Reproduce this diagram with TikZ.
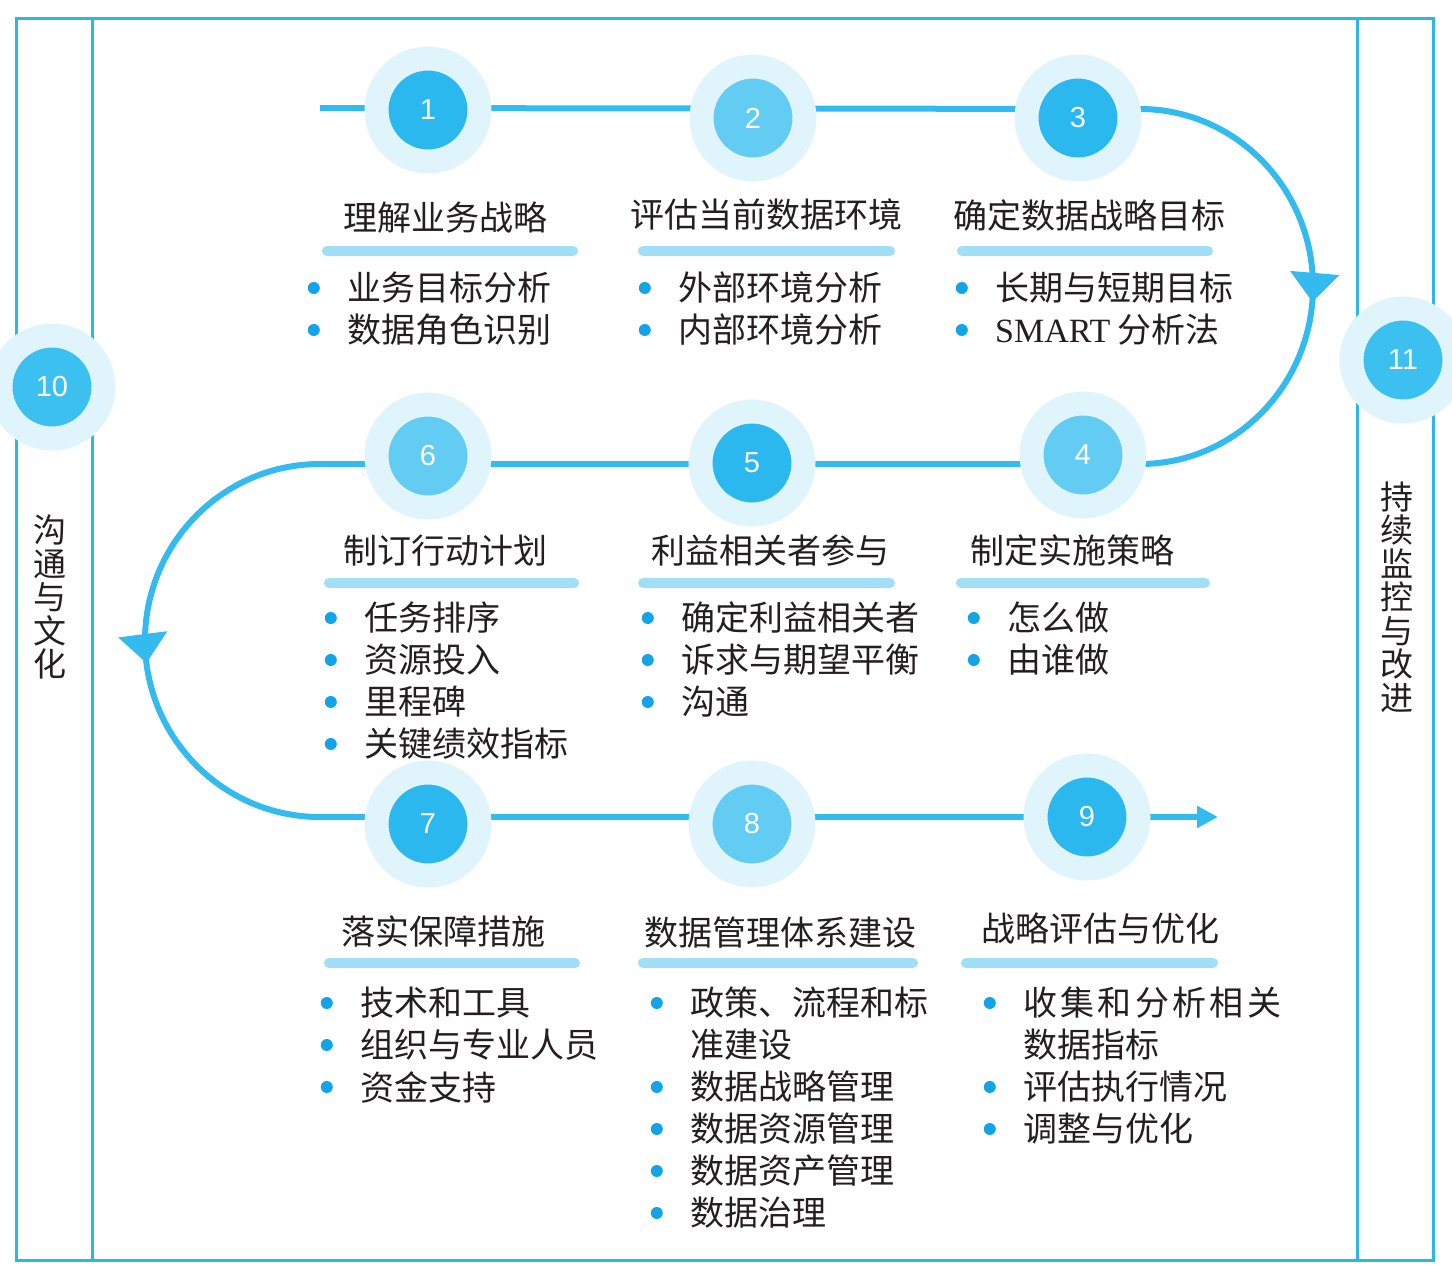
\documentclass[tikz,border=0pt]{standalone}
\usepackage{fontspec}
\setmainfont{Noto Sans CJK SC}
\newfontfamily\numfont{Liberation Sans}
\newfontfamily\latinfont{Liberation Serif}
\usetikzlibrary{arrows.meta,decorations.markings}

\definecolor{flowblue}{HTML}{33BAEE}
\definecolor{halo}{HTML}{E0F4FC}
\definecolor{darkdisc}{HTML}{2AB8EF}
\definecolor{lightdisc}{HTML}{62CCF3}
\definecolor{middisc}{HTML}{3CC0F0}
\definecolor{barblue}{HTML}{A0DFF6}
\definecolor{dotblue}{HTML}{12A4E6}
\definecolor{frameblue}{HTML}{2DB6EC}
\definecolor{ink}{HTML}{231F20}

\tikzset{
  frame/.style={draw=frameblue, line width=3pt},
  flow/.style={draw=flowblue, line width=6pt},
  midarrow/.style={decoration={markings,
      mark=at position #1 with {\arrow{Triangle[width=48pt,length=29pt]}}},
    postaction={decorate}},
  stepdisc/.style={circle, minimum size=103pt, inner sep=0pt, draw=halo,
    line width=24pt, fill=#1, text=white,
    font=\numfont\fontsize{29}{29}\selectfont},
  heading/.style={anchor=west, inner sep=0pt, text=ink,
    font=\fontsize{34}{40}\selectfont},
  bar/.style={draw=barblue, line width=10pt, line cap=round},
  point/.style={heading, label={[circle, fill=dotblue, inner sep=0pt,
      minimum size=12pt, label distance=27pt]left:{}}},
  vtext/.style={align=center, inner sep=0pt, text=ink,
    font=\fontsize{33}{33.5}\selectfont},
}

\begin{document}
\begin{tikzpicture}[x=1pt,y=-1pt]
  \clip (0,0) rectangle (1452,1279);

  \draw[frame] (16,19) rectangle (1433,1260);
  \draw[frame] (92,19) -- (92,1260);
  \draw[frame] (1357,19) -- (1357,1260);

  \coordinate (r1) at (320,108);
  \coordinate (a1) at (1140,109);
  \coordinate (a2) at (1140,464);
  \coordinate (a3) at (320,464);
  \coordinate (a4) at (320,817);
  \coordinate (a5) at (1218,817);

  \draw[flow] (r1) -- (a1);
  \draw[flow, midarrow=0.528] (a1)
    arc[start angle=-90, end angle=90, x radius=173, y radius=177.5];
  \draw[flow] (a2) -- (a3);
  \draw[flow, midarrow=0.541] (a3)
    arc[start angle=-90, end angle=-270, x radius=175, y radius=176.5];
  \draw[flow, -{Triangle[length=21pt,width=21pt]}] (a4) -- (a5);

  \node[stepdisc=darkdisc] (s1) at (428,110) {1};
  \node[stepdisc=lightdisc] (s2) at (753,118) {2};
  \node[stepdisc=darkdisc] (s3) at (1078,118) {3};
  \node[stepdisc=lightdisc] (s4) at (1083,455) {4};
  \node[stepdisc=darkdisc] (s5) at (752,463) {5};
  \node[stepdisc=lightdisc] (s6) at (428,456) {6};
  \node[stepdisc=darkdisc] (s7) at (428,824) {7};
  \node[stepdisc=lightdisc] (s8) at (752,824) {8};
  \node[stepdisc=darkdisc] (s9) at (1087,817) {9};
  \node[stepdisc=middisc] (s10) at (52,387) {10};
  \node[stepdisc=middisc] (s11) at (1403,360) {11};

  \node[vtext] (left) at (50,597) {沟\\通\\与\\文\\化};
  \node[vtext] (right) at (1397,597) {持\\续\\监\\控\\与\\改\\进};

  \node[heading] (t1) at (343,218) {理解业务战略};
  \node[heading] (t2) at (630,215) {评估当前数据环境};
  \node[heading] (t3) at (953,216) {确定数据战略目标};
  \draw[bar] (327,251) -- (573,251);
  \draw[bar] (643,251) -- (890,251);
  \draw[bar] (962,251) -- (1208,251);

  \node[point] (p11) at (347,288) {业务目标分析};
  \node[point] (p12) at (347,330) {数据角色识别};
  \node[point] (p21) at (678,288) {外部环境分析};
  \node[point] (p22) at (678,330) {内部环境分析};
  \node[point] (p31) at (995,288) {长期与短期目标};
  \node[point] (p32) at (995,330) {{\latinfont SMART} 分析法};

  \node[heading] (t6) at (343,551) {制订行动计划};
  \node[heading] (t5) at (651,551) {利益相关者参与};
  \node[heading] (t4) at (970,551) {制定实施策略};
  \draw[bar] (329,583) -- (574,583);
  \draw[bar] (643,583) -- (890,583);
  \draw[bar] (961,583) -- (1205,583);

  \node[point] (p61) at (364,618) {任务排序};
  \node[point] (p62) at (364,660) {资源投入};
  \node[point] (p63) at (364,702) {里程碑};
  \node[point] (p64) at (364,744) {关键绩效指标};
  \node[point] (p51) at (681,618) {确定利益相关者};
  \node[point] (p52) at (681,660) {诉求与期望平衡};
  \node[point] (p53) at (681,702) {沟通};
  \node[point] (p41) at (1007,618) {怎么做};
  \node[point] (p42) at (1007,660) {由谁做};

  \node[heading] (t7) at (341,931) {落实保障措施};
  \node[heading] (t8) at (644,933) {数据管理体系建设};
  \node[heading] (t9) at (981,929) {战略评估与优化};
  \draw[bar] (329,963) -- (575,963);
  \draw[bar] (643,963) -- (913,963);
  \draw[bar] (966,963) -- (1213,963);

  \node[point] (p71) at (360,1003) {技术和工具};
  \node[point] (p72) at (360,1045) {组织与专业人员};
  \node[point] (p73) at (360,1087) {资金支持};
  \node[point] (p81) at (690,1003) {政策、流程和标};
  \node[heading] (p81b) at (690,1045) {准建设};
  \node[point] (p82) at (690,1087) {数据战略管理};
  \node[point] (p83) at (690,1129) {数据资源管理};
  \node[point] (p84) at (690,1171) {数据资产管理};
  \node[point] (p85) at (690,1213) {数据治理};
  \node[point] (p91) at (1023,1003)
    {\hbox to 258pt{收\hfill 集\hfill 和\hfill 分\hfill 析\hfill 相\hfill 关}};
  \node[heading] (p91b) at (1023,1045) {数据指标};
  \node[point] (p92) at (1023,1087) {评估执行情况};
  \node[point] (p93) at (1023,1129) {调整与优化};
\end{tikzpicture}
\end{document}
